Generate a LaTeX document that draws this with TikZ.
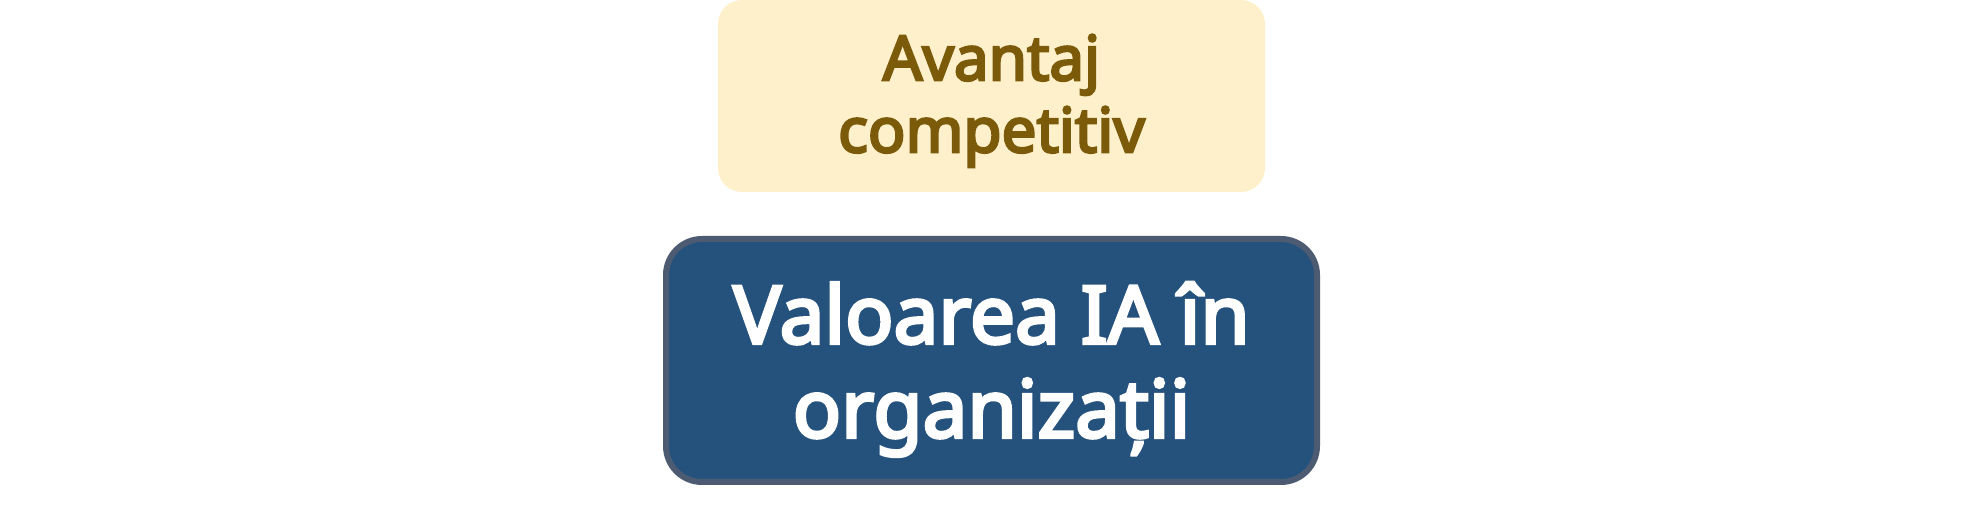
\documentclass[tikz,border=0pt]{standalone}
\usepackage{fontspec}
\setmainfont{Noto Sans}[BoldFont={Noto Sans}, BoldFeatures={FakeBold=4}]
\definecolor{goalfill}{HTML}{FDF0CB}
\definecolor{goaltext}{HTML}{7B5A0A}
\definecolor{corefill}{HTML}{25527D}
\definecolor{coreline}{HTML}{4C5B72}
\newcommand{\padtop}[1]{\rule{0pt}{#1}}

\begin{document}
\begin{tikzpicture}[x=0.5pt,y=-0.5pt,node distance=132.25pt,
    goal/.style={rectangle, rounded corners=12pt, fill=goalfill, text=goaltext, align=center,
                 minimum width=273.5pt, minimum height=96pt, inner sep=0pt,
                 font=\fontsize{31}{36}\selectfont\bfseries},
    core/.style={rectangle, rounded corners=18pt, fill=corefill, draw=coreline, line width=3pt, text=white, align=center,
                 minimum width=325.5pt, minimum height=121.5pt, inner sep=0pt,
                 font=\fontsize{40}{47}\selectfont\bfseries}]
				\useasboundingbox (0,0) rectangle (1969,528);

				\node[goal]          (Avantaj) at (991.5,96)      {\padtop{27.7pt}Avantaj\\competitiv};
				\node[core]          (Valoare) [below of=Avantaj] {\padtop{39.5pt}Valoarea IA în\\organizații};

			\end{tikzpicture}
\end{document}
